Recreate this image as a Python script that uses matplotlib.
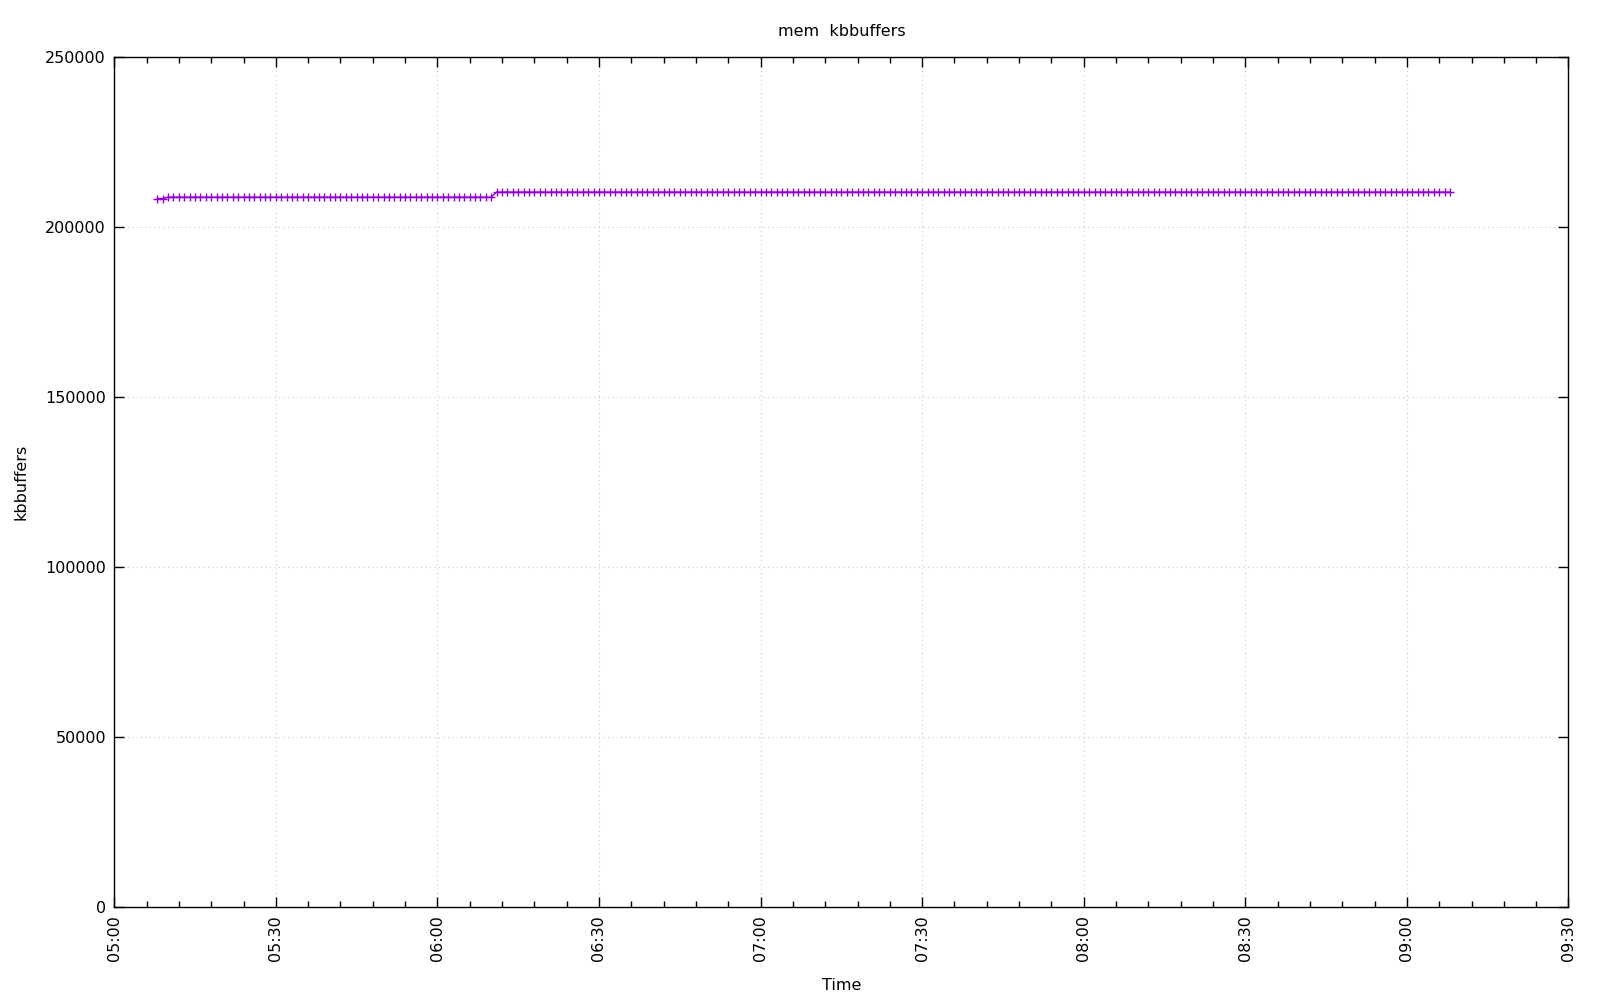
import datetime as dt
import matplotlib
matplotlib.use("Agg")
import matplotlib.pyplot as plt
import matplotlib.dates as mdates

# Data: 1-minute samples of kbbuffers
start_time = "05:08"
level_values = [208400, 208800, 210300]   # kbbuffers levels
level_counts = [2, 61, 178]               # samples at each level (one per minute)

values = []
for v, n in zip(level_values, level_counts):
    values += [v] * n

t0 = dt.datetime(2000, 1, 1, *map(int, start_time.split(":")))
times = [t0 + dt.timedelta(minutes=i) for i in range(len(values))]

x_ticks = ["05:00", "05:30", "06:00", "06:30", "07:00", "07:30",
           "08:00", "08:30", "09:00", "09:30"]
y_ticks = [0, 50000, 100000, 150000, 200000, 250000]

plt.rcParams['font.family'] = ['DejaVu Sans']
plt.rcParams['font.size'] = 11.5

fig = plt.figure(figsize=(16, 10), dpi=100)
ax = fig.add_axes([0.0714, 0.0929, 0.9089, 0.85])

ax.plot(times, values, color="#9400D3", lw=1.0, marker="+", ms=6, mew=1.0)

def tparse(s):
    h, m = map(int, s.split(":"))
    return dt.datetime(2000, 1, 1, h, m)

xt = [tparse(s) for s in x_ticks]
ax.set_xlim(xt[0], xt[-1])
ax.set_xticks(xt)
ax.set_xticklabels(x_ticks, rotation=90, va="top")
ax.xaxis.set_minor_locator(mdates.MinuteLocator(byminute=range(0, 60, 6)))
ax.set_ylim(y_ticks[0], y_ticks[-1])
ax.set_yticks(y_ticks)
ax.set_yticklabels([str(v) for v in y_ticks])

ax.tick_params(which="both", direction="in", top=True, right=True, width=1)
ax.tick_params(which="major", length=7, pad=6)
ax.tick_params(which="minor", length=4)
for s in ax.spines.values():
    s.set_linewidth(1)

ax.grid(True, which="major", color="#c8c8c8", linestyle=(0, (1, 3)), lw=0.8)

ax.set_title("mem  kbbuffers", fontsize=11.5, pad=15)
ax.set_xlabel("Time", fontsize=11.5, labelpad=12)
ax.set_ylabel("kbbuffers", fontsize=11.5, labelpad=12)

fig.savefig("out.png", dpi=100)
